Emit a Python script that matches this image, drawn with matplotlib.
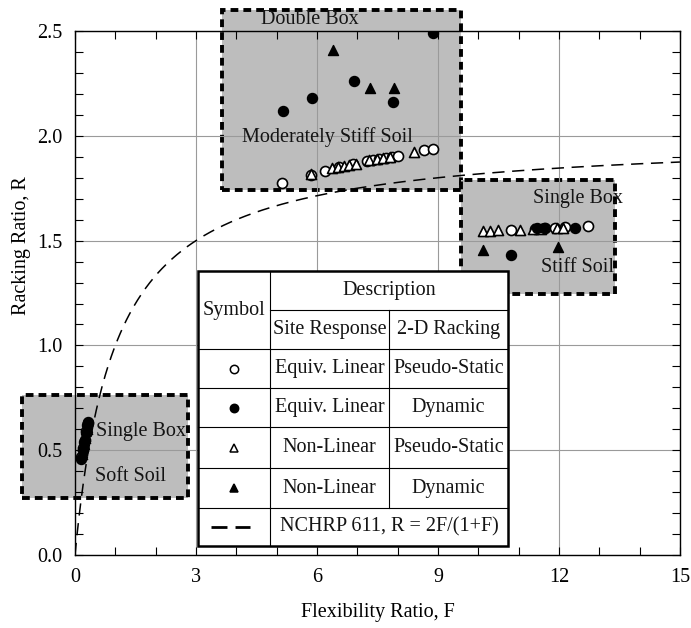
import numpy as np
import matplotlib
matplotlib.use("Agg")
import matplotlib.pyplot as plt
from matplotlib.patches import Rectangle
from matplotlib.lines import Line2D

plt.rcParams['font.family'] = ['Liberation Serif', 'DejaVu Serif']
plt.rcParams['mathtext.fontset'] = 'stix'

# ---------------- data ----------------
# Equivalent-linear site response + pseudo-static racking (open circles)
el_ps_F = [5.14, 5.85, 6.20, 6.55, 6.90, 7.25, 7.40, 7.55, 7.70, 7.85, 8.00, 8.65, 8.88,
           10.81, 11.40, 11.65, 11.90, 12.15, 12.73,
           0.16, 0.20, 0.24, 0.28, 0.32]
el_ps_R = [1.776, 1.815, 1.83, 1.85, 1.865, 1.88, 1.885, 1.89, 1.895, 1.90, 1.905, 1.93, 1.935,
           1.553, 1.557, 1.56, 1.56, 1.563, 1.571,
           0.47, 0.51, 0.55, 0.59, 0.63]
# Equivalent-linear + dynamic (filled circles)
el_dyn_F = [5.15, 5.88, 6.93, 7.88, 8.87,
            11.45, 11.62, 12.40, 10.81,
            0.15, 0.19, 0.23, 0.27, 0.31, 0.33]
el_dyn_R = [2.12, 2.18, 2.26, 2.16, 2.49,
            1.558, 1.56, 1.561, 1.43,
            0.46, 0.50, 0.54, 0.58, 0.62, 0.635]
# Non-linear + pseudo-static (open triangles)
nl_ps_F = [5.85, 6.38, 6.52, 6.66, 6.80, 6.98, 7.30, 7.48, 7.64, 7.80, 8.41,
           10.12, 10.29, 10.50, 11.03, 11.35, 11.55, 11.95, 12.10,
           0.17, 0.21, 0.25, 0.29]
nl_ps_R = [1.82, 1.845, 1.85, 1.855, 1.86, 1.865, 1.885, 1.89, 1.895, 1.90, 1.924,
           1.545, 1.548, 1.55, 1.552, 1.555, 1.557, 1.56, 1.562,
           0.48, 0.52, 0.56, 0.60]
# Non-linear + dynamic (filled triangles)
nl_dyn_F = [6.39, 7.32, 7.92, 10.12, 11.98, 0.18, 0.22, 0.26, 0.30]
nl_dyn_R = [2.41, 2.23, 2.23, 1.455, 1.468, 0.49, 0.53, 0.57, 0.61]

x_ticks = [0, 3, 6, 9, 12, 15]
y_ticks = [0.0, 0.5, 1.0, 1.5, 2.0, 2.5]

# shaded groups: (F_min, F_max, R_min, R_max)
groups = {
    'double': (3.64, 9.57, 1.74, 2.60),
    'stiff': (9.57, 13.39, 1.245, 1.79),
    'soft': (-1.31, 2.80, 0.272, 0.763),
}

# ---------------- figure ----------------
fig = plt.figure(figsize=(6.91, 6.28), dpi=100)
ax = fig.add_axes([0.1085, 0.1162, 0.8755, 0.8344])
ax.set_xlim(0, 15)
ax.set_ylim(0, 2.5)
ax.set_axisbelow(True)

for key, (x0, x1, y0, y1) in groups.items():
    ax.add_patch(Rectangle((x0, y0), x1 - x0, y1 - y0, facecolor='#bdbdbd',
                           edgecolor='black', lw=2.8, linestyle=(0, (2.0, 1.3)),
                           clip_on=False, zorder=0.2))

ax.grid(True, which='major', color='#9a9a9a', lw=0.8)

F = np.linspace(0, 15, 600)
ax.plot(F, 2 * F / (1 + F), color='black', lw=1.1, linestyle=(0, (8, 5)), zorder=2)

ms = 52
ax.scatter(el_ps_F, el_ps_R, s=ms, marker='o', facecolors='white', edgecolors='black', linewidths=1.2, zorder=3)
ax.scatter(nl_ps_F, nl_ps_R, s=ms, marker='^', facecolors='white', edgecolors='black', linewidths=1.2, zorder=3)
ax.scatter(el_dyn_F, el_dyn_R, s=ms, marker='o', facecolors='black', edgecolors='black', linewidths=1.0, zorder=3)
ax.scatter(nl_dyn_F, nl_dyn_R, s=ms, marker='^', facecolors='black', edgecolors='black', linewidths=1.0, zorder=3)

tc = '#141414'
fs = 14.5
ax.text(5.83, 2.555, 'Double Box', ha='center', va='center', fontsize=fs, color=tc, zorder=3, clip_on=False)
ax.text(6.27, 1.995, 'Moderately Stiff Soil', ha='center', va='center', fontsize=fs, color=tc, zorder=3)
ax.text(12.47, 1.70, 'Single Box', ha='center', va='center', fontsize=fs, color=tc, zorder=3)
ax.text(12.47, 1.37, 'Stiff Soil', ha='center', va='center', fontsize=fs, color=tc, zorder=3)
ax.text(0.52, 0.59, 'Single Box', ha='left', va='center', fontsize=fs, color=tc, zorder=3)
ax.text(0.50, 0.377, 'Soft Soil', ha='left', va='center', fontsize=fs, color=tc, zorder=3)

ax.set_xticks(x_ticks)
ax.set_yticks(y_ticks)
ax.set_xticklabels([str(v) for v in x_ticks])
ax.set_yticklabels([f'{v:.1f}' for v in y_ticks])
ax.set_xticks(np.arange(0, 16, 1), minor=True)
ax.set_yticks(np.arange(0, 2.51, 0.1), minor=True)
ax.tick_params(which='both', direction='in', top=True, right=True, labelsize=14.5, colors='black')
ax.tick_params(which='major', length=6, width=0.8, pad=9)
ax.tick_params(which='minor', length=5.5, width=0.8)
for s in ax.spines.values():
    s.set_linewidth(1.0)

ax.set_xlabel('Flexibility Ratio, F', fontsize=14.5, labelpad=12)
ax.set_ylabel('Racking Ratio, R', fontsize=14.5, labelpad=10)
ax.yaxis.set_label_coords(-0.073, 0.59)

# ---------------- legend table ----------------
T = ax.transAxes
cx = [0.2033, 0.3223, 0.519, 0.7157]
ry = [0.542, 0.4676, 0.3931, 0.3187, 0.2443, 0.166, 0.0897, 0.0172]
ax.add_patch(Rectangle((cx[0], ry[-1]), cx[3] - cx[0], ry[0] - ry[-1], transform=T,
                       facecolor='white', edgecolor='black', lw=1.8, zorder=4, clip_on=False))

def hline(x0, x1, y):
    ax.add_line(Line2D([x0, x1], [y, y], transform=T, color='black', lw=0.8, zorder=4.5))

def vline(x, y0, y1):
    ax.add_line(Line2D([x, x], [y0, y1], transform=T, color='black', lw=0.8, zorder=4.5))

hline(cx[1], cx[3], ry[1])
for y in ry[2:7]:
    hline(cx[0], cx[3], y)
vline(cx[1], ry[-1], ry[0])
vline(cx[2], ry[6], ry[1])

lfs = 14.5
def ttxt(x, y, s):
    ax.text(x, y, s, transform=T, ha='center', va='center', fontsize=lfs, color=tc, zorder=5)

ttxt((cx[0] + cx[1]) / 2, (ry[0] + ry[2]) / 2, 'Symbol')
ttxt((cx[1] + cx[3]) / 2, (ry[0] + ry[1]) / 2, 'Description')
ttxt((cx[1] + cx[2]) / 2, (ry[1] + ry[2]) / 2, 'Site Response')
ttxt((cx[2] + cx[3]) / 2, (ry[1] + ry[2]) / 2, '2-D Racking')

rows = [('o', 'white', 'Equiv. Linear', 'Pseudo-Static'),
        ('o', 'black', 'Equiv. Linear', 'Dynamic'),
        ('^', 'white', 'Non-Linear', 'Pseudo-Static'),
        ('^', 'black', 'Non-Linear', 'Dynamic')]
for i, (mk, fc, a, b) in enumerate(rows):
    yc = (ry[2 + i] + ry[3 + i]) / 2
    ax.plot([(cx[0] + cx[1]) / 2], [yc], marker=mk, markersize=6, markerfacecolor=fc,
            markeredgecolor='black', markeredgewidth=1.1, transform=T, zorder=5, clip_on=False)
    ttxt((cx[1] + cx[2]) / 2, yc, a)
    ttxt((cx[2] + cx[3]) / 2, yc, b)

yc = (ry[6] + ry[7]) / 2
x0 = (211 - 75) / 605
x1 = (250 - 75) / 605
ax.add_line(Line2D([x0, x1], [yc, yc], transform=T, color='black', lw=2.0,
                   linestyle=(0, (5.75, 2.9)), zorder=5))
ttxt((cx[1] + cx[3]) / 2, yc, 'NCHRP 611, R = 2F/(1+F)')

fig.savefig('out.png', dpi=100)
